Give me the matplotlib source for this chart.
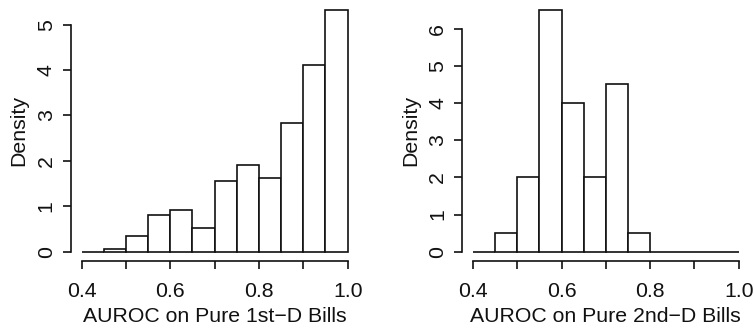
import matplotlib
matplotlib.use("Agg")
import matplotlib.pyplot as plt
import numpy as np

plt.rcParams['font.family'] = ['Liberation Sans', 'DejaVu Sans']

# Histogram bins (width 0.05) shared by both panels
bin_edges = [0.40, 0.45, 0.50, 0.55, 0.60, 0.65, 0.70, 0.75, 0.80, 0.85, 0.90, 0.95, 1.00]

# Densities per bin
density_1st = [0.0, 0.07, 0.35, 0.81, 0.92, 0.52, 1.56, 1.91, 1.63, 2.83, 4.10, 5.32]
density_2nd = [0.0, 0.5, 2.0, 6.5, 4.0, 2.0, 4.5, 0.5, 0.0, 0.0, 0.0, 0.0]

xlabel_1st = "AUROC on Pure 1st\u2212D Bills"
xlabel_2nd = "AUROC on Pure 2nd\u2212D Bills"
ylabel = "Density"

x_ticks = [0.4, 0.5, 0.6, 0.7, 0.8, 0.9, 1.0]
x_tick_labels = ["0.4", "", "0.6", "", "0.8", "", "1.0"]
y_ticks_1st = [0, 1, 2, 3, 4, 5]
y_ticks_2nd = [0, 1, 2, 3, 4, 5, 6]

W, H = 754, 329
fig = plt.figure(figsize=(W / 100, H / 100), dpi=100)

FS = 15.3
LW = 1.2


def panel(rect, dens, yticks, xlabel):
    ax = fig.add_axes(rect)
    edges = np.array(bin_edges)
    widths = np.diff(edges)
    ax.bar(edges[:-1], dens, width=widths, align='edge',
           facecolor='white', edgecolor='#111111', linewidth=LW)
    x0, x1 = edges[0], edges[-1]
    dx = (x1 - x0) * 0.04
    ymax = max(dens)
    ax.set_xlim(x0 - dx, x1 + dx)
    ax.set_ylim(-0.04 * ymax, ymax * 1.04)
    for s in ('top', 'right'):
        ax.spines[s].set_visible(False)
    ax.spines['left'].set_bounds(yticks[0], yticks[-1])
    ax.spines['bottom'].set_bounds(x_ticks[0], x_ticks[-1])
    for s in ('left', 'bottom'):
        ax.spines[s].set_linewidth(LW)
        ax.spines[s].set_color('#111111')
    ax.set_xticks(x_ticks)
    ax.set_xticklabels(x_tick_labels)
    ax.set_yticks(yticks)
    ax.set_yticklabels([str(v) for v in yticks], rotation=90, va='center')
    ax.tick_params(axis='both', direction='out', length=6, width=LW,
                   labelsize=FS, color='#111111', labelcolor='#111111')
    ax.tick_params(axis='x', pad=9)
    ax.tick_params(axis='y', pad=5)
    ax.set_xlabel(xlabel, fontsize=FS, labelpad=4, color='#111111')
    ax.set_ylabel(ylabel, fontsize=FS, labelpad=6, color='#111111')
    ax.patch.set_visible(False)
    return ax


bottom = (H - 261.4) / H
height = 261.0 / H
panel([71.0 / W, bottom, 287.3 / W, height], density_1st, y_ticks_1st, xlabel_1st)
panel([462.4 / W, bottom, 286.9 / W, height], density_2nd, y_ticks_2nd, xlabel_2nd)

fig.savefig("out.png", dpi=100)
